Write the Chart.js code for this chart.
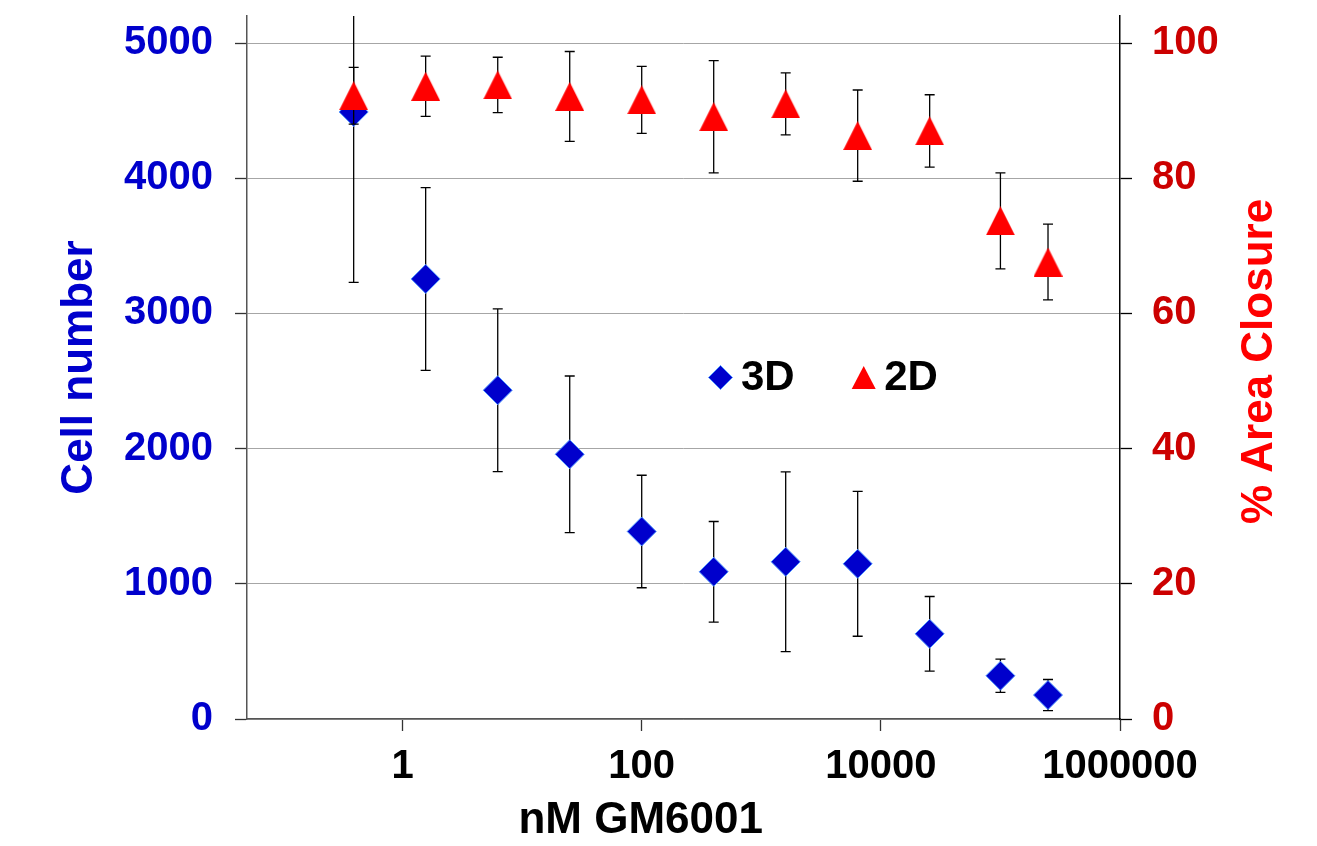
<!DOCTYPE html>
<html>
<head>
<meta charset="utf-8">
<script src="https://cdn.jsdelivr.net/npm/chart.js@4.4.0/dist/chart.umd.min.js"></script>
<style>
html, body { margin: 0; padding: 0; background: #fff; }
#wrap { width: 1317px; height: 846px; }
</style>
</head>
<body>
<div id="wrap"><canvas id="chart"></canvas></div>
<script>
// GM6001 dose (nM), 4-fold dilutions
const doses = [0.39, 1.56, 6.25, 25, 100, 400, 1600, 6400, 25600, 100000, 250000];
const cells3D = [4490, 3255, 2432, 1958, 1387, 1089, 1163, 1148, 630, 320, 177];
const cells3DErr = [1260, 676, 602, 579, 416, 372, 665, 536, 276, 123, 115];
const closure2D = [92.2, 93.6, 93.8, 92.1, 91.6, 89.1, 91.0, 86.3, 87.0, 73.7, 67.6];
const closure2DErr = [4.2, 4.45, 4.1, 6.65, 4.95, 8.3, 4.6, 6.75, 5.35, 7.1, 5.6];

const xTicks = [1, 100, 10000, 1000000];
const leftTicks = [0, 1000, 2000, 3000, 4000, 5000];
const rightTicks = [0, 20, 40, 60, 80, 100];

const xTitle = "nM GM6001";
const leftTitle = "Cell number";
const rightTitle = "% Area Closure";

const FONT = '"Liberation Sans", Arial, sans-serif';

function triangleMarker(w, h, color) {
    let c = document.createElement("canvas");
    c.width = w;
    c.height = h;
    let g = c.getContext("2d");
    g.fillStyle = color;
    g.beginPath();
    g.moveTo(w / 2, 0);
    g.lineTo(w, h);
    g.lineTo(0, h);
    g.closePath();
    g.fill();
    return c;
}

// error bars are drawn just before each dataset's markers
const errorBars = {
    id: "errorBars",
    beforeDatasetDraw(chart, args) {
        let ds = chart.data.datasets[args.index];
        if (!ds.errors) return;
        let meta = args.meta;
        let yScale = chart.scales[meta.yAxisID];
        let a = chart.chartArea;
        let ctx = chart.ctx;
        ctx.save();
        ctx.beginPath();
        ctx.rect(a.left, a.top, a.right - a.left, a.bottom - a.top);
        ctx.clip();
        ctx.strokeStyle = "#000";
        ctx.lineWidth = 1.3;
        meta.data.forEach((pt, i) => {
            let v = ds.data[i].y;
            let e = ds.errors[i];
            let yHi = yScale.getPixelForValue(v + e);
            let yLo = yScale.getPixelForValue(v - e);
            ctx.beginPath();
            ctx.moveTo(pt.x, yHi);
            ctx.lineTo(pt.x, yLo);
            ctx.moveTo(pt.x - 5, yHi);
            ctx.lineTo(pt.x + 5, yHi);
            ctx.moveTo(pt.x - 5, yLo);
            ctx.lineTo(pt.x + 5, yLo);
            ctx.stroke();
        });
        ctx.restore();
    }
};

// legend inside the plot, plus the x title and the right title
const extras = {
    id: "extras",
    afterDraw(chart) {
        let ctx = chart.ctx;
        let a = chart.chartArea;
        let w = a.right - a.left;
        let h = a.bottom - a.top;
        ctx.save();

        // legend
        ctx.font = "bold 42px " + FONT;
        ctx.textBaseline = "middle";
        ctx.textAlign = "left";
        let x = a.left + 0.5424 * w;
        let y = a.top + 0.5142 * h;
        chart.data.datasets.forEach(ds => {
            if (ds.legendShape === "diamond") {
                ctx.beginPath();
                ctx.moveTo(x, y - 12);
                ctx.lineTo(x + 12, y);
                ctx.lineTo(x, y + 12);
                ctx.lineTo(x - 12, y);
                ctx.closePath();
                ctx.fillStyle = ds.backgroundColor;
                ctx.fill();
                ctx.lineWidth = 1;
                ctx.strokeStyle = ds.borderColor;
                ctx.stroke();
            } else {
                ctx.beginPath();
                ctx.moveTo(x, y - 11.5);
                ctx.lineTo(x + 12, y + 11.5);
                ctx.lineTo(x - 12, y + 11.5);
                ctx.closePath();
                ctx.fillStyle = ds.backgroundColor;
                ctx.fill();
            }
            ctx.fillStyle = "#000";
            ctx.fillText(ds.label, x + 20.5, y + 1);
            x += 20.5 + ctx.measureText(ds.label).width + 69;
        });

        // x axis title
        ctx.font = "bold 44px " + FONT;
        ctx.textAlign = "center";
        ctx.fillStyle = "#000";
        ctx.fillText(xTitle, a.left + 0.451 * w, a.bottom + 102);

        // right axis title, reading upwards
        ctx.fillStyle = "#FF0000";
        ctx.translate(a.right + 140, a.top + h / 2 - 6);
        ctx.rotate(-Math.PI / 2);
        ctx.fillText(rightTitle, 0, 0);
        ctx.restore();
    }
};

// fixed plot box: no extra room for half tick labels
function fixVertical(width) {
    return s => {
        s.width = width;
        s.paddingTop = 0;
        s.paddingBottom = 0;
    };
}

const ctx = document.getElementById("chart").getContext("2d");

new Chart(ctx, {
    type: "scatter",
    data: {
        datasets: [
            {
                label: "3D",
                data: doses.map((d, i) => ({ x: d, y: cells3D[i] })),
                errors: cells3DErr,
                yAxisID: "y",
                order: 1,
                pointStyle: "rectRot",
                pointRadius: 14.5,
                backgroundColor: "#0000CC",
                borderColor: "#4D94FF",
                borderWidth: 1,
                legendShape: "diamond"
            },
            {
                label: "2D",
                data: doses.map((d, i) => ({ x: d, y: closure2D[i] })),
                errors: closure2DErr,
                yAxisID: "y2",
                order: 0,
                pointStyle: triangleMarker(29, 29, "#FF0000"),
                pointRadius: 14.5,
                backgroundColor: "#FF0000",
                borderColor: "#FF0000",
                borderWidth: 0,
                legendShape: "triangle"
            }
        ]
    },
    options: {
        responsive: true,
        maintainAspectRatio: false,
        animation: false,
        events: [],
        layout: { padding: { top: 16, left: 0, right: 0, bottom: 0 } },
        plugins: {
            legend: { display: false },
            title: { display: false },
            tooltip: { enabled: false }
        },
        scales: {
            x: {
                type: "logarithmic",
                min: 0.05,
                max: 1000000,
                afterBuildTicks: axis => { axis.ticks = xTicks.map(v => ({ value: v })); },
                afterFit: s => {
                    s.height = 127;
                    s.paddingLeft = 0;
                    s.paddingRight = 0;
                },
                grid: { drawOnChartArea: false, tickLength: 12, tickColor: "#333", tickWidth: 1.3 },
                border: { display: true, color: "#555", width: 1.5 },
                ticks: {
                    color: "#000",
                    padding: 12,
                    maxRotation: 0,
                    autoSkip: false,
                    font: { family: FONT, size: 40, weight: "bold" },
                    callback: v => String(v)
                }
            },
            y: {
                position: "left",
                min: 0,
                max: 5200,
                afterBuildTicks: axis => { axis.ticks = leftTicks.map(v => ({ value: v })); },
                afterFit: fixVertical(247),
                grid: { color: "#A6A6A6", lineWidth: 1, tickLength: 12, tickColor: "#333", tickWidth: 1.3 },
                border: { display: true, color: "#555", width: 1.5 },
                ticks: {
                    color: "#0000CC",
                    padding: 22,
                    font: { family: FONT, size: 40, weight: "bold" },
                    callback: v => String(v)
                },
                title: {
                    display: true,
                    text: leftTitle,
                    color: "#0000CC",
                    padding: { top: 53, bottom: 0 },
                    font: { family: FONT, size: 44, weight: "bold" }
                }
            },
            y2: {
                position: "right",
                min: 0,
                max: 104,
                afterBuildTicks: axis => { axis.ticks = rightTicks.map(v => ({ value: v })); },
                afterFit: fixVertical(197),
                grid: { drawOnChartArea: false, tickLength: 12, tickColor: "#000", tickWidth: 1.3 },
                border: { display: true, color: "#000", width: 1.5 },
                ticks: {
                    color: "#CC0000",
                    padding: 20,
                    font: { family: FONT, size: 40, weight: "bold" },
                    callback: v => String(v)
                }
            }
        }
    },
    plugins: [errorBars, extras]
});
</script>
</body>
</html>
